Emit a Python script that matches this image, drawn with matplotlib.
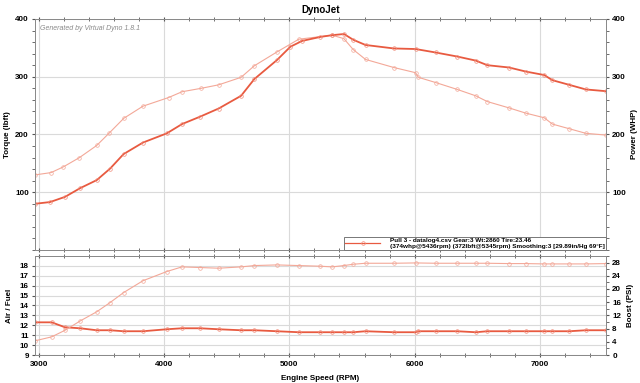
import matplotlib.pyplot as plt
from matplotlib.ticker import MultipleLocator
from matplotlib.lines import Line2D

plt.rcParams['font.family'] = ['Liberation Sans', 'DejaVu Sans']

# Top panel data
tq_rpm = [2968, 3096, 3195, 3323, 3461, 3563, 3677, 3830, 4035, 4142, 4296, 4435,
          4614, 4720, 4901, 5075, 5341, 5435, 5510, 5608, 5834, 6008, 6030, 6168,
          6341, 6488, 6581, 6755, 6888, 7035, 7101, 7235, 7368, 7528]
torque = [130, 134, 144, 160, 181, 203, 228, 249, 264, 274, 280, 286,
          299, 319, 343, 365, 372, 366, 347, 330, 316, 307, 299, 290,
          278, 267, 257, 246, 237, 229, 218, 210, 202, 199]

hp_rpm = [2968, 3088, 3208, 3328, 3461, 3568, 3675, 3830, 4021, 4142, 4288, 4435,
          4614, 4720, 4901, 5008, 5101, 5248, 5341, 5436, 5510, 5608, 5834, 6008,
          6168, 6341, 6488, 6581, 6755, 6888, 7035, 7101, 7235, 7368, 7528]
power = [80, 83, 92, 107, 121, 141, 166, 186, 202, 218, 231, 245,
         267, 296, 329, 352, 362, 369, 372, 374, 364, 355, 349, 348,
         342, 335, 328, 320, 316, 309, 303, 294, 286, 278, 275]

# Bottom panel data
afr_rpm = [2968, 3101, 3208, 3328, 3461, 3568, 3675, 3830, 4021, 4142, 4288, 4435,
           4614, 4720, 4901, 5075, 5248, 5341, 5435, 5510, 5608, 5834, 6008, 6030,
           6168, 6341, 6488, 6581, 6755, 6888, 7035, 7101, 7235, 7368, 7528]
afr = [12.3, 12.3, 11.8, 11.7, 11.5, 11.5, 11.4, 11.4, 11.6, 11.7, 11.7, 11.6,
       11.5, 11.5, 11.4, 11.3, 11.3, 11.3, 11.3, 11.3, 11.4, 11.3, 11.3, 11.4,
       11.4, 11.4, 11.3, 11.4, 11.4, 11.4, 11.4, 11.4, 11.4, 11.5, 11.5]

boost_rpm = [2968, 3101, 3208, 3328, 3461, 3568, 3675, 3830, 4021, 4142, 4288, 4435,
             4614, 4720, 4901, 5075, 5248, 5341, 5435, 5510, 5608, 5834, 6008, 6168,
             6341, 6488, 6581, 6755, 6888, 7035, 7101, 7235, 7368, 7528]
boost = [4.3, 5.5, 7.5, 10.3, 13.1, 15.9, 18.9, 22.5, 25.3, 26.7, 26.5, 26.3,
         26.7, 27.1, 27.3, 27.1, 26.9, 26.7, 27.1, 27.5, 27.8, 27.8, 27.9, 27.8,
         27.8, 27.8, 27.8, 27.7, 27.7, 27.6, 27.6, 27.6, 27.6, 27.7]

RED = '#e85a40'
PINK = '#f3a898'
MK_RED = '#f08a78'
GRID = '#dadada'
tick_font = dict(fontsize=5.8, fontweight='bold')
lab_font = dict(fontsize=5.8, fontweight='bold')

fig = plt.figure(figsize=(6.4, 3.83), dpi=100)
ax1 = fig.add_axes([0.0547, 0.3473, 0.892, 0.6031])
ax2 = fig.add_axes([0.0547, 0.0731, 0.892, 0.2585])


def style_spines(a):
    for s in a.spines.values():
        s.set_color('#8a8a8a')
        s.set_linewidth(0.7)


# ---- top panel: torque / power ----
ax1r = ax1.twinx()
ax1.plot(tq_rpm, torque, color=PINK, lw=0.8, marker='o', ms=2.6, mfc='none', mew=0.5)
ax1r.plot(hp_rpm, power, color=RED, lw=1.3, marker='o', ms=2.6, mfc='none', mew=0.5, mec=MK_RED)
for a in (ax1, ax1r):
    a.set_ylim(0, 400)
    a.yaxis.set_minor_locator(MultipleLocator(20))
ax1.set_xlim(2968, 7528)
ax1.xaxis.set_major_locator(MultipleLocator(1000))
ax1.xaxis.set_minor_locator(MultipleLocator(200))
ax1.grid(True, which='major', color=GRID, lw=0.8)
ax1.set_axisbelow(True)
ax1.tick_params(axis='x', which='both', labelbottom=False, top=True, direction='inout', length=3, color='#555555')
ax1.tick_params(axis='y', which='both', direction='out', color='#555555', length=2.5, pad=2)
ax1r.tick_params(axis='y', which='both', direction='out', color='#555555', length=2.5, pad=2)
ax1.set_yticks([100, 200, 300, 400])
ax1.set_yticklabels(['100', '200', '300', '400'], **tick_font)
ax1r.set_yticks([100, 200, 300, 400])
ax1r.set_yticklabels(['100', '200', '300', '400'], **tick_font)
ax1.set_ylabel('Torque (lbft)', labelpad=3, **lab_font)
ax1r.set_ylabel('Power (WHP)', labelpad=4, **lab_font)
style_spines(ax1)
style_spines(ax1r)
ax1.text(0.008, 0.975, 'Generated by Virtual Dyno 1.8.1', transform=ax1.transAxes,
         fontsize=5, style='italic', color='#8a8a8a', va='top')
ax1.set_title('DynoJet', fontsize=7, fontweight='bold', pad=4)

handle = Line2D([], [], color=RED, lw=0.9, marker='o', ms=2.6, mfc='none', mew=0.5, mec=MK_RED)
leg = ax1r.legend([handle],
                  ['Pull 3 - datalog4.csv Gear:3 Wt:2860 Tire:23.46\n'
                   '(374whp@5436rpm) (372lbft@5345rpm) Smoothing:3 [29.89in/Hg 69°F]'],
                  loc='lower right', bbox_to_anchor=(1.0, 0.0), prop=dict(size=4.6, weight='bold'),
                  fancybox=False, edgecolor='#777777', framealpha=1,
                  borderaxespad=0, handlelength=5.5, handletextpad=1.5,
                  borderpad=0.2, labelspacing=0.1)
leg.get_frame().set_linewidth(0.7)

# ---- bottom panel: AFR / boost ----
ax2r = ax2.twinx()
ax2.plot(afr_rpm, afr, color=RED, lw=1.3, marker='o', ms=2.6, mfc='none', mew=0.5, mec=MK_RED)
ax2r.plot(boost_rpm, boost, color=PINK, lw=0.8, marker='o', ms=2.6, mfc='none', mew=0.5)
ax2.set_xlim(2968, 7528)
ax2.set_ylim(9, 19)
ax2r.set_ylim(0, 30)
ax2.xaxis.set_minor_locator(MultipleLocator(200))
ax2r.yaxis.set_minor_locator(MultipleLocator(2))
ax2.grid(True, which='major', color=GRID, lw=0.8)
ax2.set_axisbelow(True)
ax2.set_yticks(range(9, 19))
ax2.set_yticklabels([str(v) for v in range(9, 19)], **tick_font)
ax2r.set_yticks(range(0, 29, 4))
ax2r.set_yticklabels([str(v) for v in range(0, 29, 4)], **tick_font)
ax2.set_xticks([3000, 4000, 5000, 6000, 7000])
ax2.set_xticklabels(['3000', '4000', '5000', '6000', '7000'], **tick_font)
ax2.tick_params(axis='x', which='both', top=True, direction='inout', length=3, color='#555555', pad=3)
ax2.tick_params(axis='y', direction='out', color='#555555', length=2.5, pad=2)
ax2r.tick_params(axis='y', which='both', direction='out', color='#555555', length=2.5, pad=2)
ax2.set_ylabel('Air / Fuel', labelpad=5, **lab_font)
ax2r.set_ylabel('Boost (PSI)', labelpad=4, **lab_font)
ax2.set_xlabel('Engine Speed (RPM)', labelpad=5, **lab_font)
style_spines(ax2)
style_spines(ax2r)

fig.savefig('out.png', dpi=100)
